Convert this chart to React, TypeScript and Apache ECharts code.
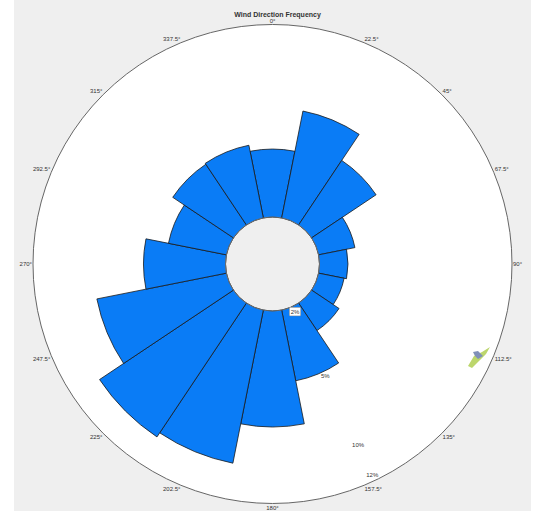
import React, { useEffect, useRef } from "react";
import * as echarts from "echarts";

const directions = ["0°", "22.5°", "45°", "67.5°", "90°", "112.5°", "135°", "157.5°", "180°", "202.5°", "225°", "247.5°", "270°", "292.5°", "315°", "337.5°"];
const frequency = [4.44, 7.12, 5.07, 2.42, 1.86, 1.7, 2.16, 4.71, 7.58, 10.2, 10.52, 8.63, 5.36, 3.86, 4.77, 4.84];
const radialLabels = ["2%", "5%", "10%", "12%"];
const radialLabelRadii = [52.7, 123.7, 200.3, 233.4];
const radialMax = 12.58;
const chartTitle = "Wind Direction Frequency";

export default function App() {
  const ref = useRef<HTMLDivElement>(null);
  useEffect(() => {
    document.body.style.margin = "0";
    if (!ref.current) return;
    const chart = echarts.init(ref.current, null, { renderer: "svg" });
    const cx = 272.5, cy = 264;
    const labelAngle = (154.7 * Math.PI) / 180;
    const graphics: any[] = radialLabels.map((t, i) => ({
      type: "text",
      x: cx + radialLabelRadii[i] * Math.sin(labelAngle),
      y: cy - radialLabelRadii[i] * Math.cos(labelAngle),
      z: 50,
      style: {
        text: t,
        fontSize: 6,
        fontFamily: "Liberation Sans, Arial, sans-serif",
        fill: "#333",
        align: "center",
        verticalAlign: "middle",
        backgroundColor: i === 0 ? "#fff" : undefined,
        borderColor: i === 0 ? "#888" : undefined,
        borderWidth: i === 0 ? 0.5 : 0,
        padding: i === 0 ? [1, 1] : 0,
      },
    }));
    graphics.push({
      type: "circle",
      shape: { cx, cy, r: 47 },
      z: 40,
      style: { fill: "none", stroke: "#999", lineWidth: 0.6 },
    });
    graphics.push({
      type: "polygon",
      shape: { points: [[468, 366], [474, 356], [482, 352], [490, 347], [486, 354], [480, 360], [472, 368]] },
      z: 40,
      style: { fill: "#bcd66c" },
    });
    graphics.push({
      type: "polygon",
      shape: { points: [[473, 352], [478, 351], [483, 356], [478, 359], [475, 356]] },
      z: 41,
      style: { fill: "#8090b8" },
    });
    chart.setOption({
      animation: false,
      backgroundColor: "transparent",
      title: {
        text: chartTitle,
        left: 272.5,
        top: 6,
        textAlign: "center",
        textStyle: { fontSize: 7, fontWeight: "bold", color: "#333", fontFamily: "Liberation Sans, Arial, sans-serif" },
      },
      polar: { center: [cx, cy], radius: [47, 239.5] },
      angleAxis: {
        type: "category",
        data: directions,
        startAngle: 90 + 11.25,
        clockwise: true,
        boundaryGap: true,
        axisLine: { show: true, lineStyle: { color: "#666", width: 1 } },
        axisTick: { show: false },
        splitLine: { show: false },
        splitArea: { show: true, areaStyle: { color: ["#ffffff"] } },
        axisLabel: { fontSize: 6, color: "#333", margin: 1, fontFamily: "Liberation Sans, Arial, sans-serif" },
      },
      radiusAxis: {
        min: 0,
        max: radialMax,
        axisLine: { show: false },
        axisTick: { show: false },
        axisLabel: { show: false },
        splitLine: { show: false },
      },
      series: [
        {
          type: "bar",
          coordinateSystem: "polar",
          data: frequency,
          barCategoryGap: "0%",
          itemStyle: { color: "#0a7cf6", borderColor: "#1a1a1a", borderWidth: 0.8 },
        },
      ],
      graphic: graphics,
    });
    return () => chart.dispose();
  }, []);
  return (
    <div style={{ position: "relative", width: 541, height: 511, background: "#fff" }}>
      <div style={{ position: "absolute", left: 14, top: 0, width: 517, height: 511, background: "#efefef" }} />
      <div ref={ref} style={{ position: "absolute", left: 0, top: 0, width: 541, height: 511 }} />
    </div>
  );
}
